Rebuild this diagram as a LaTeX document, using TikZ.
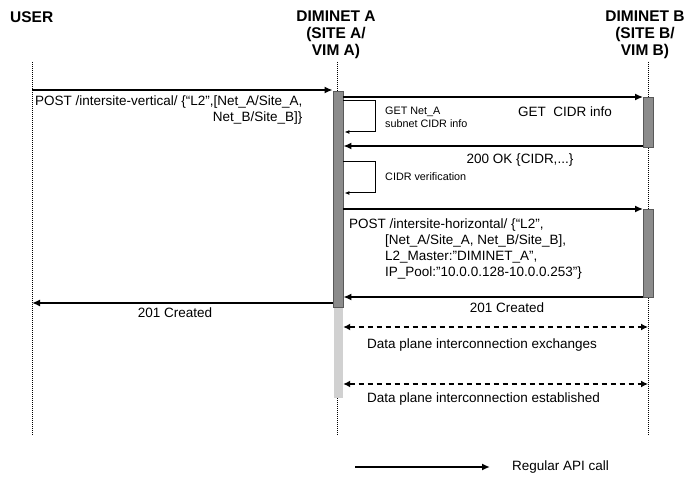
\documentclass[tikz,border=0pt]{standalone}
\usepackage{fontspec}
\setmainfont{Liberation Sans}
\usetikzlibrary{arrows.meta, positioning}

\begin{document}
\begin{tikzpicture}[
  x=1pt, y=-1pt,
  actor/.style={font=\fontsize{15.5}{17}\selectfont\bfseries, align=center, inner sep=0pt},
  lifeline/.style={line width=1pt, densely dotted},
  bar/.style={draw=black!65, fill=black!45, line width=0.8pt, minimum width=10pt, inner sep=0pt},
  idlebar/.style={draw=none, fill=black!18, minimum width=9pt, inner sep=0pt},
  msg/.style={line width=1.6pt, -{Latex[length=8pt,width=7pt]}},
  selfmsg/.style={line width=1pt, -{Latex[length=5pt,width=4pt]}},
  datamsg/.style={line width=1.6pt, dash pattern=on 5pt off 4pt, {Latex[length=7pt,width=7pt]}-{Latex[length=7pt,width=7pt]}},
  lbl/.style={font=\fontsize{13.5}{16}\selectfont, inner sep=0pt},
  note/.style={font=\fontsize{10.8}{13}\selectfont, align=left, inner sep=0pt}
  ]
  \useasboundingbox (0,0) rectangle (694,478);

  % actors
  \node[actor, anchor=west] (user) at (10,17) {USER};
  \node[actor] (dima) at (336,35) {DIMINET A\\(SITE A/\\VIM A)};
  \node[actor] (dimb) at (645,35) {DIMINET B\\(SITE B/\\VIM B)};

  % lifelines
  \coordinate (uTop) at (32,62);  \coordinate (uEnd) at (32,436);
  \coordinate (aTop) at (337,62); \coordinate (aEnd) at (337,436);
  \coordinate (bTop) at (648,62); \coordinate (bEnd) at (648,436);
  \draw[lifeline] (uTop) -- (uEnd);
  \draw[lifeline] (aTop) -- (aEnd);
  \draw[lifeline] (bTop) -- (bEnd);

  % activations
  \node[idlebar, minimum height=91pt] (idleA) at (338.5,352.5) {};
  \node[bar, minimum height=216pt] (barA) at (338,199) {};
  \node[bar, minimum height=50pt] (barB1) at (648.5,122) {};
  \node[bar, minimum height=88pt] (barB2) at (648.5,253) {};

  % message rows
  \coordinate (r1) at (0,90);
  \coordinate (r2) at (0,97);
  \coordinate (l1) at (0,101);
  \coordinate (r3) at (0,146);
  \coordinate (l2) at (0,162);
  \coordinate (r4) at (0,209);
  \coordinate (r5) at (0,297);
  \coordinate (r6) at (0,303);
  \coordinate (r7) at (0,327);
  \coordinate (r8) at (0,384);

  \draw[msg] (uTop |- r1) -- (barA.west |- r1);
  \node[lbl, align=right, anchor=north west] (postv) at (35,96)
    {POST /intersite-vertical/ \{“L2”,[Net\_A/Site\_A,\\Net\_B/Site\_B]\}};

  \draw[msg] (barA.east |- r2) -- (barB1.west |- r2);
  \node[lbl] (getcidr) at (565,112) {GET\ \ CIDR info};

  \draw[selfmsg] (barA.east |- l1) -- ++(32,0) -- ++(0,31) -- ++(-31,0);
  \node[note, anchor=west] (getnet) at (385,117.5) {GET Net\_A\\subnet CIDR info};

  \draw[msg] (barB1.west |- r3) -- (barA.east |- r3);
  \node[lbl] (ok) at (520,160) {200 OK \{CIDR,...\}};

  \draw[selfmsg] (barA.east |- l2) -- ++(32,0) -- ++(0,31) -- ++(-31,0);
  \node[note, anchor=west] (verif) at (385,177) {CIDR verification};

  \draw[msg] (barA.east |- r4) -- (barB2.west |- r4);
  \node[lbl, align=left, anchor=north west] (posth) at (349,219)
    {POST /intersite-horizontal/ \{“L2”,\\
     \hspace*{36pt}[Net\_A/Site\_A, Net\_B/Site\_B],\\
     \hspace*{36pt}L2\_Master:”DIMINET\_A”,\\
     \hspace*{36pt}IP\_Pool:”10.0.0.128-10.0.0.253”\}};

  \draw[msg] (barB2.west |- r5) -- (barA.east |- r5);
  \node[lbl] (createdb) at (507,308) {201 Created};

  \draw[msg] (barA.west |- r6) -- (uTop |- r6);
  \node[lbl] (createda) at (175,313) {201 Created};

  \draw[datamsg] (idleA.east |- r7) -- (bTop |- r7);
  \node[lbl, anchor=west] (exch) at (367,345) {Data plane interconnection exchanges};

  \draw[datamsg] (idleA.east |- r8) -- (bTop |- r8);
  \node[lbl, anchor=west] (estab) at (367,399) {Data plane interconnection established};

  % legend
  \coordinate (legA) at (355,467);
  \node[lbl, anchor=west] (legend) at (512,467) {Regular API call};
  \draw[msg] (legA) -- (490,467);
\end{tikzpicture}
\end{document}
